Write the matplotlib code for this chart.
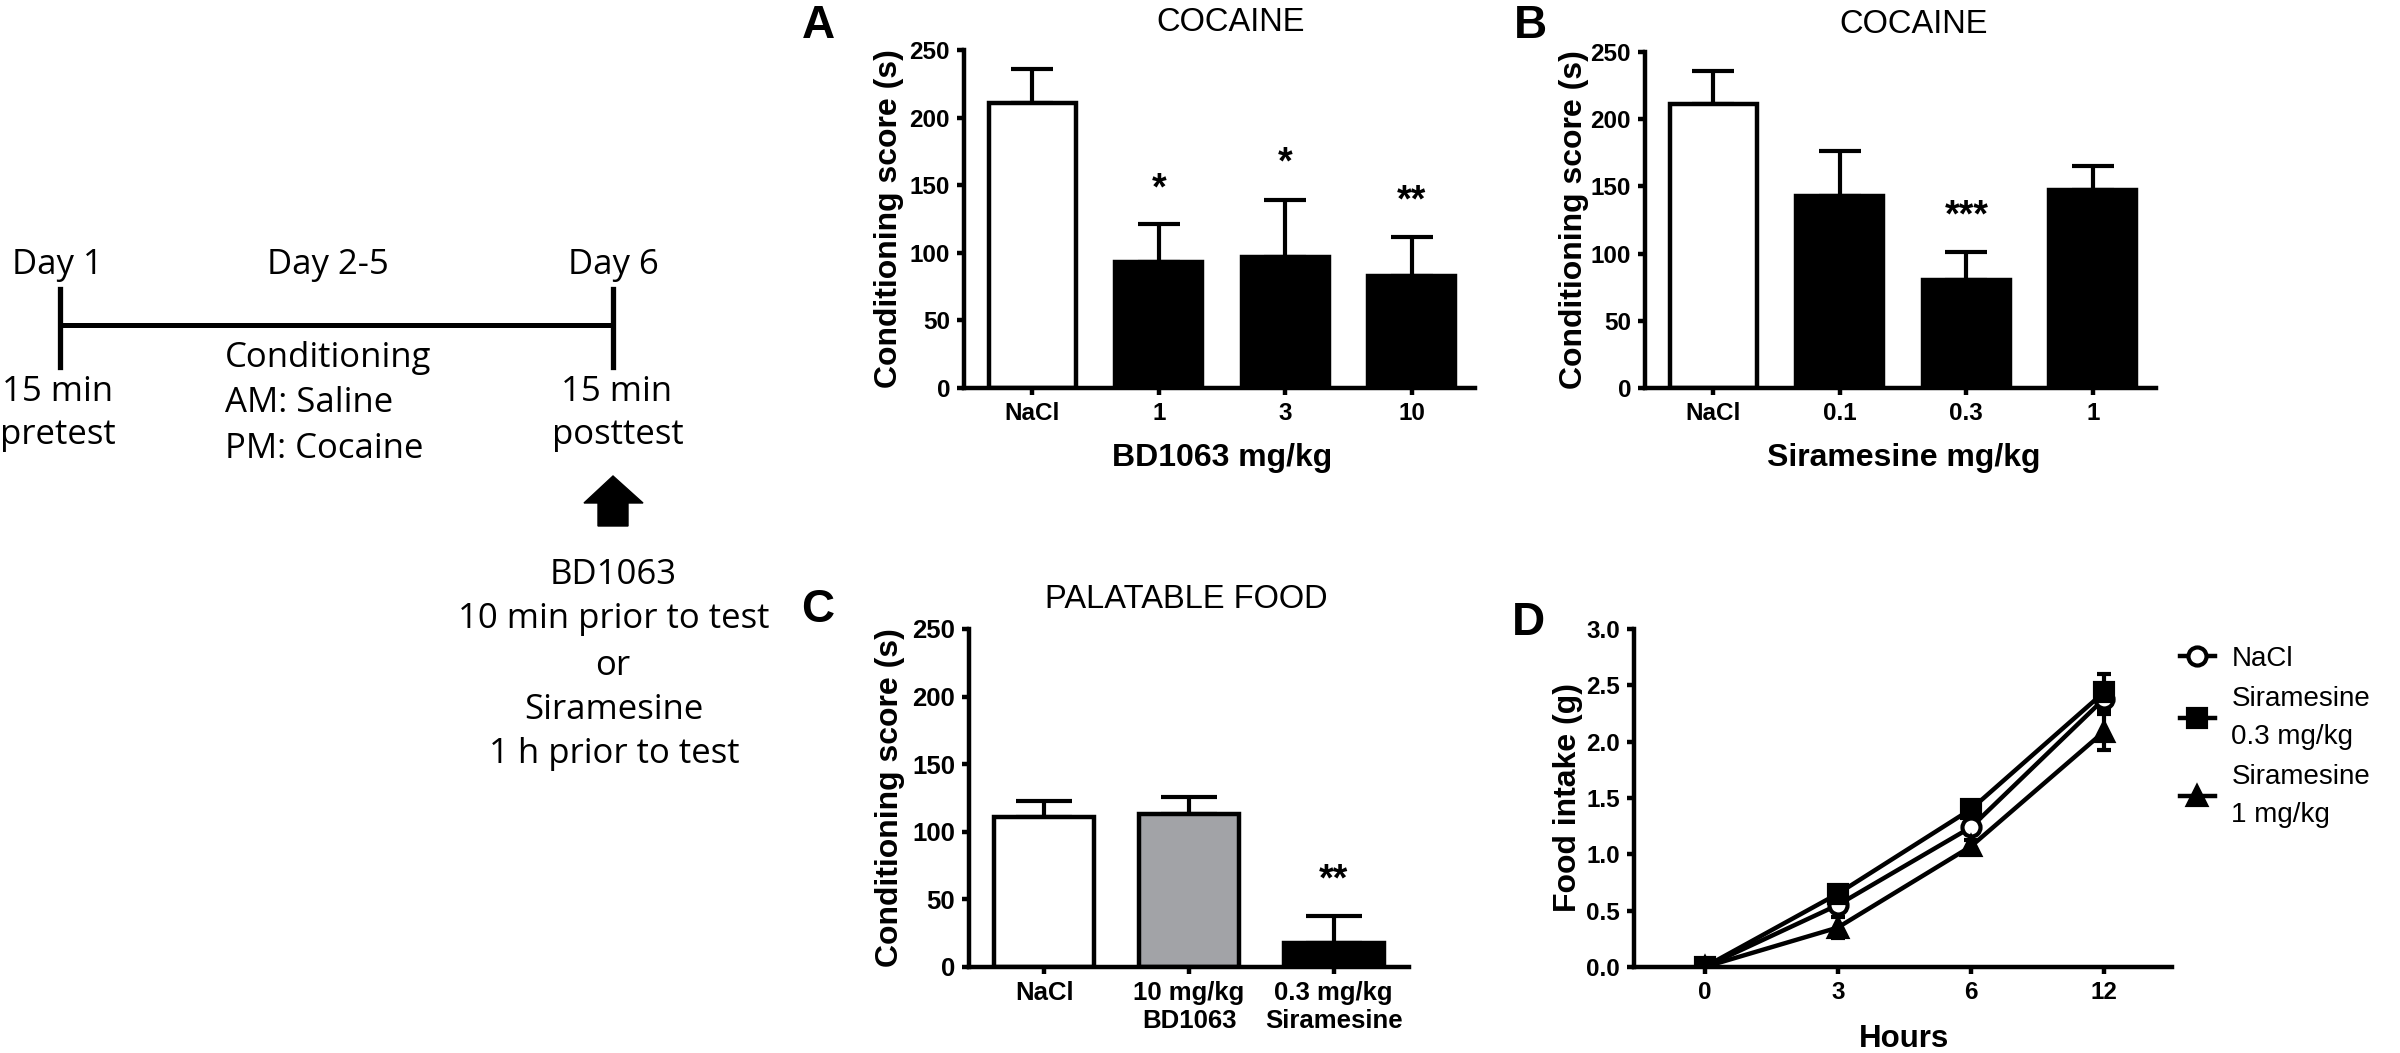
import matplotlib
matplotlib.use("Agg")
import matplotlib.pyplot as plt
from matplotlib.patches import Polygon
from matplotlib.lines import Line2D

# ---------------- data ----------------
a_cats = ["NaCl", "1", "3", "10"]
a_vals = [211, 93, 97, 83]
a_errs = [25, 28, 42, 29]
a_colors = ["white", "black", "black", "black"]
a_stars = ["", "*", "*", "**"]
a_star_y = [0, 155, 174, 146]

b_cats = ["NaCl", "0.1", "0.3", "1"]
b_vals = [211, 143, 80, 147]
b_errs = [25, 33, 21, 18]
b_colors = ["white", "black", "black", "black"]
b_stars = ["", "", "***", ""]
b_star_y = [0, 0, 136, 0]

c_cats = ["NaCl", "10 mg/kg\nBD1063", "0.3 mg/kg\nSiramesine"]
c_vals = [111, 113.5, 18]
c_errs = [12, 12, 20]
c_colors = ["white", "#a2a3a7", "black"]
c_stars = ["", "", "**"]
c_star_y = [0, 0, 72]

d_hours = ["0", "3", "6", "12"]
d_nacl = [0.0, 0.55, 1.24, 2.38]
d_nacl_err = [0.0, 0.05, 0.06, 0.12]
d_sir03 = [0.0, 0.65, 1.40, 2.44]
d_sir03_err = [0.0, 0.05, 0.06, 0.16]
d_sir1 = [0.0, 0.35, 1.07, 2.09]
d_sir1_err = [0.0, 0.09, 0.06, 0.16]
d_labels = ["NaCl", "Siramesine\n0.3 mg/kg", "Siramesine\n1 mg/kg"]

# ---------------- figure ----------------
W, H = 2400, 1053
fig = plt.figure(figsize=(W / 100, H / 100), dpi=100)
plt.rcParams['font.family'] = ['Liberation Sans', 'DejaVu Sans']

LW = 3.2


def rect(L, T, R, B):
    return [L / W, 1 - B / H, (R - L) / W, (B - T) / H]


def style_axes(ax, tickfs=17.5):
    for s in ["top", "right"]:
        ax.spines[s].set_visible(False)
    for s in ["left", "bottom"]:
        ax.spines[s].set_linewidth(LW)
    ax.tick_params(axis="both", direction="out", length=5, width=LW,
                   labelsize=tickfs, pad=5)
    for lab in ax.get_xticklabels() + ax.get_yticklabels():
        lab.set_fontweight("bold")


def bar_panel(ax, cats, vals, errs, colors, stars, star_y, xlim, capsize,
              tickfs=17.5):
    x = list(range(len(cats)))
    ax.errorbar(x, vals, yerr=[[0] * len(errs), errs], fmt="none",
                ecolor="black", elinewidth=3, capsize=capsize, capthick=3,
                zorder=1)
    ax.bar(x, vals, width=0.69, color=colors, edgecolor="black",
           linewidth=LW, zorder=2)
    ax.set_xlim(*xlim)
    ax.set_ylim(0, 250)
    ax.set_yticks([0, 50, 100, 150, 200, 250])
    ax.set_xticks(x)
    ax.set_xticklabels(cats)
    style_axes(ax, tickfs)
    for xi, s, sy in zip(x, stars, star_y):
        if s:
            ax.annotate(s, xy=(xi, sy), xytext=(0, -0.56 * 27),
                        textcoords="offset points", ha="center",
                        va="baseline", fontsize=27, fontweight="bold")
    ax.set_ylabel("Conditioning score (s)", fontsize=23, fontweight="bold")


# Panel A
axA = fig.add_axes(rect(964, 50, 1475, 388))
bar_panel(axA, a_cats, a_vals, a_errs, a_colors, a_stars, a_star_y,
          (-0.54, 3.5), 15)
axA.set_title("COCAINE", fontsize=23.5, x=0.522, pad=14)
axA.set_xlabel("BD1063 mg/kg", fontsize=23, fontweight="bold")
axA.yaxis.set_label_coords(-0.117, 0.5)
axA.xaxis.set_label_coords(0.505, -0.163)

# Panel B
axB = fig.add_axes(rect(1645, 52, 2156, 388))
bar_panel(axB, b_cats, b_vals, b_errs, b_colors, b_stars, b_star_y,
          (-0.54, 3.5), 15)
axB.set_title("COCAINE", fontsize=23.5, x=0.526, pad=14)
axB.set_xlabel("Siramesine mg/kg", fontsize=23, fontweight="bold")
axB.yaxis.set_label_coords(-0.110, 0.5)
axB.xaxis.set_label_coords(0.507, -0.163)

# Panel C
axC = fig.add_axes(rect(969, 629, 1409, 967))
bar_panel(axC, c_cats, c_vals, c_errs, c_colors, c_stars, c_star_y,
          (-0.52, 2.52), 20, tickfs=18.5)
axC.set_title("PALATABLE FOOD", fontsize=23.5, x=0.495, pad=15)
axC.yaxis.set_label_coords(-0.145, 0.5)

# Panel D
axD = fig.add_axes(rect(1634, 629, 2172, 967))
xd = list(range(len(d_hours)))
series = [
    (d_nacl, d_nacl_err, "o", "white"),
    (d_sir03, d_sir03_err, "s", "black"),
    (d_sir1, d_sir1_err, "^", "black"),
]
handles = []
for (yv, ye, mk, fc), lab in zip(series, d_labels):
    axD.errorbar(xd, yv, yerr=ye, fmt="none", ecolor="black",
                 elinewidth=3, capsize=5, capthick=3, zorder=2)
    ln, = axD.plot(xd, yv, color="black", lw=3.2, marker=mk, ms=13,
                   mfc=fc, mec="black", mew=3, zorder=3, label=lab)
    handles.append(ln)
axD.set_xlim(-0.53, 3.51)
axD.set_ylim(0, 3.0)
axD.set_yticks([0, 0.5, 1.0, 1.5, 2.0, 2.5, 3.0])
axD.set_yticklabels(["%.1f" % v for v in [0, 0.5, 1.0, 1.5, 2.0, 2.5, 3.0]])
axD.set_xticks(xd)
axD.set_xticklabels(d_hours)
style_axes(axD)
axD.set_ylabel("Food intake (g)", fontsize=23, fontweight="bold")
axD.set_xlabel("Hours", fontsize=22.5, fontweight="bold")
axD.yaxis.set_label_coords(-0.095, 0.5)
axD.xaxis.set_label_coords(0.502, -0.169)
leg = axD.legend(handles=handles, loc="center left",
                 bbox_to_anchor=(2180 / W, 1 - 737 / H),
                 bbox_transform=fig.transFigure, frameon=False,
                 fontsize=20, handlelength=1.25, handletextpad=0.6,
                 borderpad=0, borderaxespad=0, labelspacing=0.5)
for t in leg.get_texts():
    t.set_linespacing(1.6)

# Panel letters
for letter, (cx, by) in zip("ABCD", [(818, 38), (1530, 38), (818, 622), (1528, 635)]):
    fig.text(cx / W, 1 - by / H, letter, fontsize=33, fontweight="bold",
             ha="center", va="baseline")

# ---------------- timeline schematic ----------------
ax0 = fig.add_axes([0, 0, 1, 1], zorder=-1)
ax0.set_xlim(0, W)
ax0.set_ylim(H, 0)
ax0.axis("off")

tl_font = ["Open Sans", "DejaVu Sans"]
tl_fs = 25
tl_texts = [
    ("Day 1", 57, 274, "center"),
    ("Day 2-5", 328, 274, "center"),
    ("Day 6", 613, 274, "center"),
    ("15 min", 58, 401, "center"),
    ("pretest", 58, 444, "center"),
    ("Conditioning", 225, 367, "left"),
    ("AM: Saline", 225, 412, "left"),
    ("PM: Cocaine", 225, 458, "left"),
    ("15 min", 617, 401, "center"),
    ("posttest", 618, 444, "center"),
    ("BD1063", 613, 584, "center"),
    ("10 min prior to test", 614, 628, "center"),
    ("or", 613, 675, "center"),
    ("Siramesine", 614, 719, "center"),
    ("1 h prior to test", 614, 763, "center"),
]
for txt, x, y, ha in tl_texts:
    ax0.text(x, y, txt, fontsize=tl_fs, family=tl_font, ha=ha, va="baseline")

ax0.add_line(Line2D([60, 613], [325, 325], color="black", lw=3.6))
ax0.add_line(Line2D([60, 60], [289, 367], color="black", lw=3.8))
ax0.add_line(Line2D([613, 613], [289, 367], color="black", lw=3.8))
ax0.add_patch(Polygon([(613, 476), (643, 503), (628, 503), (628, 526),
                       (598, 526), (598, 503), (584, 503)],
                      closed=True, color="black"))

fig.savefig("out.png", dpi=100)
